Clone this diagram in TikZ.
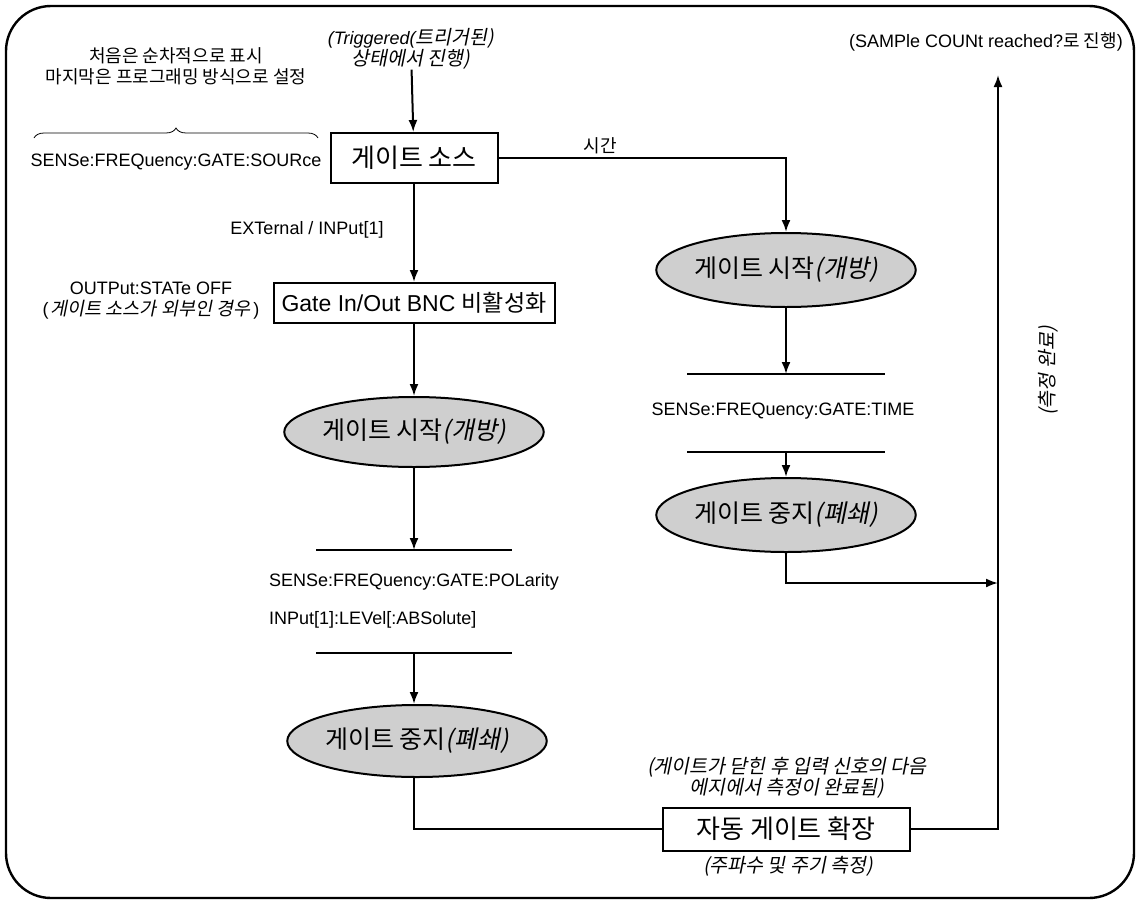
\documentclass[tikz,border=0pt]{standalone}
\usepackage{fontspec}
\setmainfont{Liberation Sans}
\newfontfamily\kr{Noto Sans CJK KR}
\newfontfamily\krit[FakeSlant=0.2]{Noto Sans CJK KR}
\usetikzlibrary{arrows.meta,positioning,shapes.geometric,decorations.pathreplacing}
\definecolor{OvalGray}{HTML}{CFCFCF}

\begin{document}
\begin{tikzpicture}[x=1pt,y=-1pt,>={Latex[length=12pt,width=9pt]}]
\tikzstyle{box}=[draw,line width=2pt,fill=white,inner sep=0pt,font=\fontsize{26}{30}\selectfont\kr]
\tikzstyle{oval}=[ellipse,draw,line width=2pt,fill=OvalGray,inner sep=0pt,font=\fontsize{25}{29}\selectfont]
\tikzstyle{lbl}=[inner sep=0pt,align=center,font=\fontsize{18}{21}\selectfont]
\tikzstyle{krlbl}=[inner sep=0pt,align=center,font=\fontsize{18}{21}\selectfont\kr]
\tikzstyle{itlbl}=[inner sep=0pt,align=center,font=\fontsize{19.5}{21}\selectfont\krit]
\tikzstyle{flow}=[->,line width=2pt]
\tikzstyle{bar}=[line width=2pt]
\useasboundingbox (0,0) rectangle (1141,905);
\draw[line width=2.4pt,rounded corners=45pt] (6,6) rectangle (1134,898);
% top notes
\node[krlbl] (note) at (176,66) {처음은 순차적으로 표시\\마지막은 프로그래밍 방식으로 설정};
\node[lbl] (trig) at (411,49) {\itshape (Triggered({\fontsize{19.5}{21}\selectfont\krit 트리거된)}\\{\fontsize{19.5}{21}\selectfont\krit 상태에서 진행)}};
\draw[decorate,decoration={brace,amplitude=10pt},line width=0.8pt] (34,138) -- (318,138);
\node[lbl] (srccmd) at (176,162) {SENSe:FREQuency:GATE:SOURce};
% left column
\node[box,minimum width=167pt,minimum height=50pt] (src) at (414,158) {게이트 소스};
\node[box,minimum width=281pt,minimum height=40pt,font=\fontsize{23}{27}\selectfont] (bnc) at (414,303) {Gate In/Out BNC {\kr 비활성화}};
\node[oval,minimum width=238pt,minimum height=70pt] (startL) at (414,432) {{\kr 게이트 시작}{\krit (개방)}};
\coordinate (polTop) at (414,550);
\coordinate (polBot) at (414,653);
\node[oval,minimum width=232pt,minimum height=72pt] (stopL) at (417,741) {{\kr 게이트 중지}{\krit (폐쇄)}};
\node[lbl] (extlbl) at (307,230) {EXTernal / INPut[1]};
\node[lbl] (outlbl) at (151,301) {OUTPut:STATe OFF\\(\kern2pt{\fontsize{18.5}{21}\selectfont\krit 게이트 소스가 외부인 경우}\kern3pt)};
\node[lbl,anchor=west] (polcmd) at (269,582) {SENSe:FREQuency:GATE:POLarity};
\node[lbl,anchor=west] (lvlcmd) at (269,620) {INPut[1]:LEVel[:ABSolute]};
\draw[bar] ([xshift=-98pt]polTop) -- ([xshift=98pt]polTop);
\draw[bar] ([xshift=-98pt]polBot) -- ([xshift=98pt]polBot);
% right column
\node[oval,minimum width=237pt,minimum height=74pt] (startR) at (786,270) {{\kr 게이트 시작}{\krit (개방)}};
\coordinate (timeTop) at (786,374);
\coordinate (timeBot) at (786,452);
\node[lbl] (timecmd) at (783,411) {SENSe:FREQuency:GATE:TIME};
\node[oval,minimum width=230pt,minimum height=74pt] (stopR) at (786,515) {{\kr 게이트 중지}{\krit (폐쇄)}};
\node[krlbl] (timelbl) at (600,146) {시간};
\draw[bar] ([xshift=-99pt]timeTop) -- ([xshift=99pt]timeTop);
\draw[bar] ([xshift=-99pt]timeBot) -- ([xshift=99pt]timeBot);
% bottom and return path
\node[box,minimum width=247pt,minimum height=43pt] (ext) at (786,829) {자동 게이트 확장};
\node[itlbl] (extnote) at (787,778) {(게이트가 닫힌 후 입력 신호의 다음\\에지에서 측정이 완료됨)};
\node[itlbl] (extsub) at (788,866) {(주파수 및 주기 측정)};
\coordinate (join) at (998,583);
\coordinate (goal) at (998,75);
\node[lbl] (goallbl) at (986,42) {(SAMPle COUNt reached?{\kr 로 진행})};
\node[itlbl,rotate=90] (donelbl) at (1048,371) {(측정 완료)};
% connectors
\draw[flow] (trig) -- (src);
\draw[flow] (src) -- (bnc);
\draw[flow] (src.east) -| (startR.north);
\draw[flow] (bnc) -- (startL);
\draw[flow] (startL) -- (polTop);
\draw[flow] (polBot) -- (polBot |- stopL.north);
\draw[flow] (startR) -- (timeTop);
\draw[flow] (timeBot) -- (stopR);
\draw[flow] (stopR.south) |- (join);
\draw[line width=2pt] (polBot |- stopL.south) |- (ext.west);
\draw[flow] (ext.east) -| (goal);
\end{tikzpicture}
\end{document}
